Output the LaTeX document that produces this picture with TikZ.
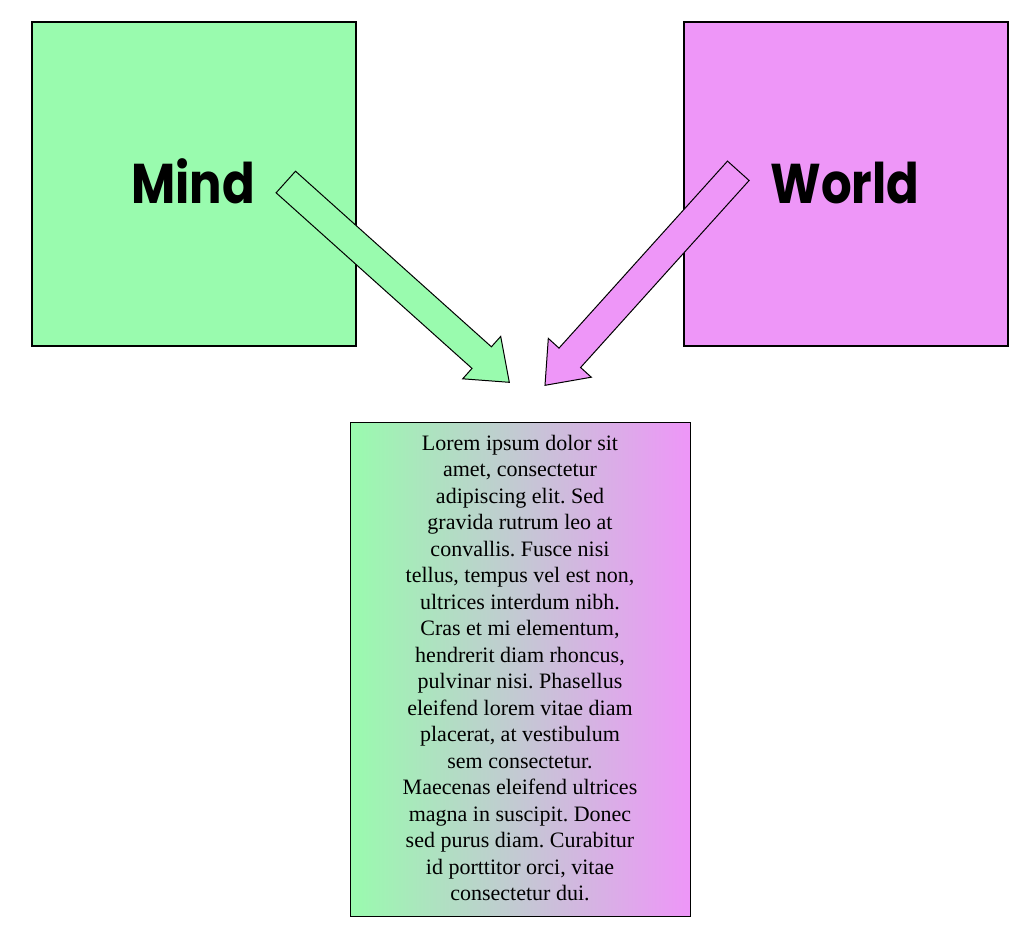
\documentclass[tikz,border=0pt]{standalone}
\usepackage{fontspec}
\setmainfont{Liberation Serif}
\newfontfamily\titlefont{Poppins}
\definecolor{mindgreen}{RGB}{153,251,174}
\definecolor{worldpink}{RGB}{238,150,248}
\begin{document}
\frenchspacing
\begin{tikzpicture}[x=1pt,y=-1pt,
  bigbox/.style={draw=black,line width=2.5pt,minimum width=324pt,minimum height=324pt,inner sep=0pt},
  title/.style={font=\titlefont\bfseries\fontsize{56}{62}\selectfont,inner sep=0pt},
  blockarrow/.style={draw=black,line width=1pt,line join=miter},
  bodytext/.style={font=\frenchspacing\fontsize{22}{26.5}\selectfont,align=center,inner sep=0pt}]
\useasboundingbox (0,0) rectangle (1030,938);
\node[bigbox,fill=mindgreen] (mind) at (194,184) {};
\node[bigbox,fill=worldpink] (world) at (846,184) {};
\node[title,anchor=base] (mindlabel) at (193,203) {\scalebox{0.86}[1]{Mind}};
\node[title,anchor=base] (worldlabel) at (845,203) {\scalebox{0.86}[1]{World}};
\draw[blockarrow,fill=mindgreen] (295.5,171.2) -- (491.4,346.8) -- (500.7,336.4) -- (509.3,382.3) -- (462.7,378.8) -- (472.0,368.4) -- (276.1,192.8) -- cycle;
\draw[blockarrow,fill=worldpink] (727.5,161.1) -- (559.0,348.1) -- (548.3,338.4) -- (545,385.3) -- (591.3,377.2) -- (580.6,367.5) -- (749.1,180.5) -- cycle;
\node[draw=black,line width=1pt,left color=mindgreen,right color=worldpink,minimum width=340pt,minimum height=494pt,inner sep=0pt] (textbox) at (520,669) {};
\node[bodytext,anchor=base] (body) at (520,900.7) {Lorem ipsum dolor sit\\amet, consectetur\\adipiscing elit. Sed\\gravida rutrum leo at\\convallis. Fusce nisi\\tellus, tempus vel est non,\\ultrices interdum nibh.\\Cras et mi elementum,\\hendrerit diam rhoncus,\\pulvinar nisi. Phasellus\\eleifend lorem vitae diam\\placerat, at vestibulum\\sem consectetur.\\Maecenas eleifend ultrices\\magna in suscipit. Donec\\sed purus diam. Curabitur\\id porttitor orci, vitae\\consectetur dui.};
\end{tikzpicture}
\end{document}
